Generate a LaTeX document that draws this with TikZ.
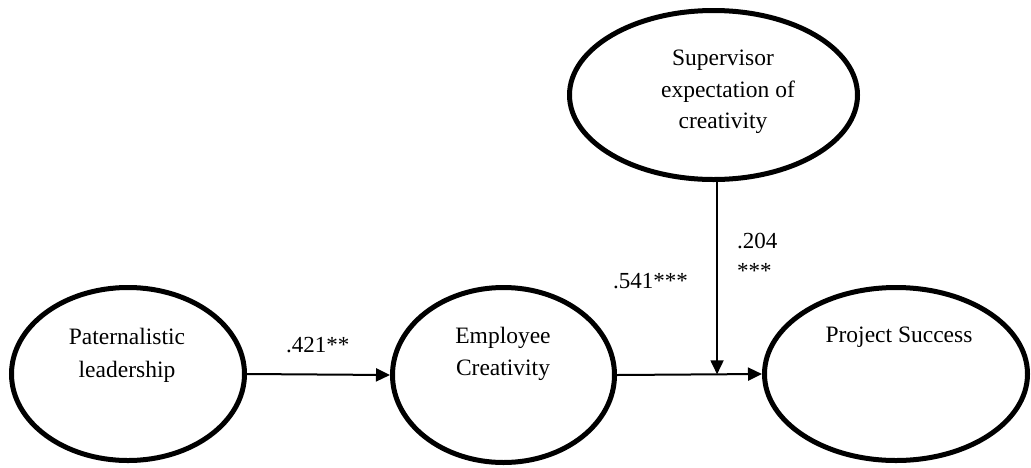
\documentclass[tikz,border=0pt]{standalone}
\usepackage{fontspec}
\setmainfont{Liberation Serif}
\usetikzlibrary{shapes.geometric,arrows.meta,calc}
\tikzset{
  construct/.style={ellipse, draw=black, line width=5pt, inner sep=0pt},
  txt/.style={anchor=base, inner sep=0pt, font=\fontsize{23.5}{32}\selectfont},
  coef/.style={anchor=base west, inner sep=0pt, font=\fontsize{23}{30}\selectfont},
  path arrow/.style={line width=2pt, -{Triangle[length=14pt,width=13pt]}},
}
\begin{document}
\begin{tikzpicture}[x=1pt,y=-1pt]
\useasboundingbox (0,0) rectangle (1031,467);
% constructs
\node[construct, minimum width=233pt, minimum height=173pt] (PL) at (128,374) {};
\node[construct, minimum width=222pt, minimum height=175pt] (EC) at (503.5,375) {};
\node[construct, minimum width=263pt, minimum height=173pt] (PS) at (896,374) {};
\node[construct, minimum width=288pt, minimum height=169pt] (SUP) at (713.5,95) {};
% texts
\node[txt] (pl1) at (127,344) {Paternalistic};
\node[txt] (pl2) at (127,377) {leadership};
\node[txt] (ec1) at (503,343) {Employee};
\node[txt] (ec2) at (503,375) {Creativity};
\node[txt] (ps1) at (899,342) {Project Success};
\node[txt] (su1) at (723,65) {Supervisor};
\node[txt] (su2) at (728,97) {expectation of};
\node[txt] (su3) at (723,128) {creativity};
% connectors
\draw[path arrow] (PL.east) -- (EC.west);
\draw[path arrow] (EC.east) -- (PS.west);
\coordinate (m) at ($(EC.east)!0.69!(PS.west)$);
\draw[line width=1.8pt, -{Triangle[length=14pt,width=13pt]}] (m |- SUP.south) -- (m);
% coefficients
\node[coef] (c1) at (286,352) {.421**};
\node[coef] (c2) at (613,288) {.541***};
\node[coef] (c3) at (737,248) {.204};
\node[coef] (c4) at (737,278) {***};
\end{tikzpicture}
\end{document}
